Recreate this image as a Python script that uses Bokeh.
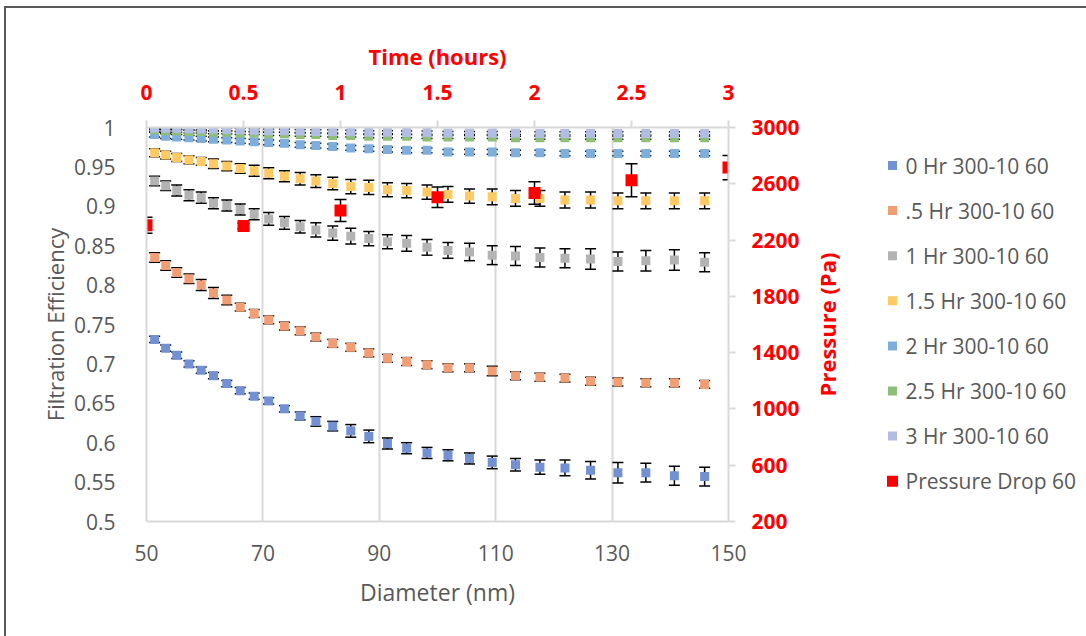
from math import pi
from bokeh.plotting import figure
from bokeh.layouts import row
from bokeh.core.properties import value
from bokeh.models import (Range1d, LinearAxis, FixedTicker, Whisker, TeeHead, Label,
                          ColumnDataSource, NumeralTickFormatter)
from bokeh.embed import file_html
from bokeh.resources import INLINE

# Particle diameter bins (nm)
diameter_nm = [51.4, 53.3, 55.2, 57.3, 59.4, 61.5, 63.8, 66.1, 68.5, 71.0, 73.7, 76.4, 79.1, 82.0, 85.1,
               88.2, 91.4, 94.7, 98.2, 101.8, 105.5, 109.4, 113.4, 117.6, 121.9, 126.3, 131.0, 135.8, 140.7, 145.9]

# Filtration efficiency per loading time, with error
eff_0hr = [0.731, 0.720, 0.711, 0.700, 0.692, 0.685, 0.675, 0.666, 0.659, 0.653, 0.643, 0.634, 0.627, 0.621, 0.615,
           0.608, 0.599, 0.593, 0.587, 0.584, 0.580, 0.575, 0.572, 0.569, 0.568, 0.565, 0.562, 0.562, 0.558, 0.557]
err_0hr = [0.004, 0.004, 0.004, 0.004, 0.004, 0.004, 0.004, 0.004, 0.004, 0.004, 0.004, 0.005, 0.006, 0.006, 0.008,
           0.008, 0.007, 0.007, 0.007, 0.007, 0.007, 0.008, 0.008, 0.009, 0.010, 0.011, 0.013, 0.012, 0.012, 0.012]

eff_05hr = [0.835, 0.825, 0.816, 0.808, 0.800, 0.790, 0.781, 0.772, 0.764, 0.756, 0.748, 0.742, 0.734, 0.726, 0.721,
            0.714, 0.707, 0.703, 0.699, 0.695, 0.695, 0.691, 0.685, 0.683, 0.682, 0.678, 0.677, 0.676, 0.676, 0.674]
err_05hr = [0.006, 0.006, 0.006, 0.006, 0.007, 0.007, 0.006, 0.005, 0.005, 0.005, 0.005, 0.005, 0.005, 0.005, 0.005,
            0.005, 0.005, 0.005, 0.005, 0.005, 0.005, 0.006, 0.005, 0.005, 0.005, 0.005, 0.005, 0.005, 0.005, 0.005]

eff_1hr = [0.932, 0.926, 0.920, 0.914, 0.911, 0.904, 0.901, 0.896, 0.890, 0.884, 0.879, 0.874, 0.870, 0.866, 0.862,
           0.859, 0.855, 0.853, 0.848, 0.844, 0.842, 0.838, 0.837, 0.835, 0.834, 0.833, 0.830, 0.831, 0.832, 0.829]
err_1hr = [0.006, 0.006, 0.007, 0.007, 0.007, 0.007, 0.007, 0.007, 0.007, 0.008, 0.008, 0.008, 0.009, 0.009, 0.010,
           0.009, 0.009, 0.010, 0.010, 0.010, 0.011, 0.012, 0.012, 0.012, 0.012, 0.013, 0.012, 0.013, 0.013, 0.012]

eff_15hr = [0.968, 0.965, 0.962, 0.959, 0.957, 0.954, 0.951, 0.948, 0.945, 0.942, 0.938, 0.935, 0.932, 0.929, 0.925,
            0.924, 0.921, 0.920, 0.918, 0.915, 0.913, 0.912, 0.910, 0.910, 0.908, 0.908, 0.907, 0.907, 0.907, 0.907]
err_15hr = [0.005, 0.005, 0.005, 0.005, 0.005, 0.006, 0.006, 0.006, 0.007, 0.007, 0.007, 0.008, 0.008, 0.008, 0.009,
            0.009, 0.009, 0.009, 0.009, 0.010, 0.009, 0.010, 0.010, 0.010, 0.010, 0.010, 0.010, 0.010, 0.010, 0.010]

eff_2hr = [0.991, 0.989, 0.988, 0.987, 0.986, 0.985, 0.984, 0.983, 0.982, 0.981, 0.980, 0.978, 0.977, 0.976, 0.974,
           0.973, 0.972, 0.971, 0.971, 0.969, 0.969, 0.969, 0.968, 0.968, 0.967, 0.967, 0.967, 0.967, 0.967, 0.967]
err_2hr = [0.003, 0.003, 0.003, 0.003, 0.003, 0.003, 0.003, 0.003, 0.003, 0.003, 0.003, 0.003, 0.003, 0.003, 0.003,
           0.003, 0.003, 0.003, 0.003, 0.003, 0.003, 0.003, 0.003, 0.003, 0.003, 0.003, 0.003, 0.003, 0.003, 0.003]

eff_25hr = [0.997, 0.996, 0.996, 0.995, 0.995, 0.994, 0.994, 0.993, 0.993, 0.992, 0.992, 0.991, 0.991, 0.990, 0.990,
            0.989, 0.989, 0.989, 0.988, 0.988, 0.988, 0.988, 0.987, 0.987, 0.987, 0.987, 0.987, 0.987, 0.987, 0.987]
err_25hr = [0.002, 0.002, 0.002, 0.002, 0.002, 0.002, 0.002, 0.002, 0.002, 0.002, 0.002, 0.002, 0.002, 0.002, 0.002,
            0.002, 0.002, 0.002, 0.002, 0.002, 0.002, 0.002, 0.002, 0.002, 0.002, 0.002, 0.002, 0.002, 0.002, 0.002]

eff_3hr = [0.9995, 0.999, 0.999, 0.9985, 0.998, 0.998, 0.9975, 0.997, 0.9965, 0.996, 0.996, 0.9955, 0.995, 0.995,
           0.9945, 0.994, 0.994, 0.9935, 0.9935, 0.993, 0.993, 0.993, 0.993, 0.9925, 0.9925, 0.9925, 0.9925, 0.9925,
           0.9925, 0.9925]
err_3hr = [0.002, 0.002, 0.002, 0.002, 0.002, 0.002, 0.002, 0.002, 0.002, 0.002, 0.002, 0.002, 0.002, 0.002, 0.002,
           0.002, 0.002, 0.002, 0.002, 0.002, 0.002, 0.002, 0.002, 0.002, 0.002, 0.002, 0.002, 0.002, 0.002, 0.002]

series_labels = ["0 Hr 300-10 60", ".5 Hr 300-10 60", "1 Hr 300-10 60", "1.5 Hr 300-10 60",
                 "2 Hr 300-10 60", "2.5 Hr 300-10 60", "3 Hr 300-10 60"]
series_colors = ["#7390D2", "#F29D74", "#B3B3B3", "#FFC964", "#7FAEDD", "#8FBE78", "#B1BDE2"]
series_values = [eff_0hr, eff_05hr, eff_1hr, eff_15hr, eff_2hr, eff_25hr, eff_3hr]
series_errors = [err_0hr, err_05hr, err_1hr, err_15hr, err_2hr, err_25hr, err_3hr]

# Pressure drop across the filter versus loading time
pressure_label = "Pressure Drop 60"
time_hr = [0, 0.5, 1, 1.5, 2, 2.5, 3]
pressure_pa = [2305, 2300, 2410, 2505, 2535, 2625, 2715]
pressure_err = [57, 20, 78, 73, 80, 118, 86]

diameter_ticks = [50, 70, 90, 110, 130, 150]
efficiency_ticks = [0.5, 0.55, 0.6, 0.65, 0.7, 0.75, 0.8, 0.85, 0.9, 0.95, 1.0]
time_ticks = [0, 0.5, 1, 1.5, 2, 2.5, 3]
pressure_ticks = [200, 600, 1000, 1400, 1800, 2200, 2600, 3000]

FONT = "Open Sans"
GRAY_TEXT = "#595959"
AXIS_GRAY = "#D9D9D9"
RED = "#FF0000"
FRAME = "#595959"

MAIN_W, SIDE_W, H = 805, 281, 636
TOP, BOTTOM = 127, 115

p = figure(width=MAIN_W, height=H, x_range=Range1d(50, 150), y_range=Range1d(0.5, 1.0),
           output_backend="svg", toolbar_location=None,
           min_border_left=146, min_border_right=77, min_border_top=TOP, min_border_bottom=BOTTOM)
p.extra_x_ranges = {"time": Range1d(0, 3)}
p.extra_y_ranges = {"pressure": Range1d(200, 3000)}

p.background_fill_color = "white"
p.border_fill_color = None
p.outline_line_color = None
# thin frame around the chart area (left and top edges)
p.styles = {"background": f"linear-gradient({FRAME},{FRAME}) 4px 6px / 2px calc(100% - 6px) no-repeat, "
                          f"linear-gradient({FRAME},{FRAME}) 4px 6px / 100% 2px no-repeat, #ffffff"}

p.ygrid.visible = False
p.xgrid.ticker = FixedTicker(ticks=diameter_ticks)
p.xgrid.grid_line_color = AXIS_GRAY
p.xgrid.grid_line_width = 2

# bottom axis: diameter
xa = p.xaxis[0]
xa.ticker = FixedTicker(ticks=diameter_ticks)
xa.axis_label = "Diameter (nm)"
xa.axis_line_color = AXIS_GRAY
xa.axis_line_width = 2
xa.major_tick_line_color = None
xa.minor_tick_line_color = None
xa.major_label_standoff = 17
xa.axis_label_standoff = 12
xa.major_label_text_font = FONT
xa.major_label_text_font_size = "21px"
xa.major_label_text_color = GRAY_TEXT
xa.axis_label_text_font = FONT
xa.axis_label_text_font_size = "23px"
xa.axis_label_text_font_style = "normal"
xa.axis_label_text_color = GRAY_TEXT

# left axis: efficiency
ya = p.yaxis[0]
ya.ticker = FixedTicker(ticks=efficiency_ticks)
ya.formatter = NumeralTickFormatter(format="0.[00]")
ya.axis_label = "Filtration Efficiency"
ya.axis_line_color = AXIS_GRAY
ya.axis_line_width = 2
ya.major_tick_line_color = None
ya.minor_tick_line_color = None
ya.major_label_standoff = 25
ya.axis_label_standoff = 1
ya.major_label_text_font = FONT
ya.major_label_text_font_size = "21px"
ya.major_label_text_color = GRAY_TEXT
ya.axis_label_text_font = FONT
ya.axis_label_text_font_size = "22px"
ya.axis_label_text_font_style = "normal"
ya.axis_label_text_color = GRAY_TEXT

# top axis: time
ta = LinearAxis(x_range_name="time", ticker=FixedTicker(ticks=time_ticks),
                formatter=NumeralTickFormatter(format="0.[0]"), axis_label="Time (hours)")
ta.axis_line_color = AXIS_GRAY
ta.axis_line_width = 2
ta.major_tick_line_color = AXIS_GRAY
ta.major_tick_line_width = 2
ta.major_tick_out = 7
ta.major_tick_in = 0
ta.minor_tick_line_color = None
ta.major_label_standoff = 21
ta.axis_label_standoff = 11
ta.major_label_text_font = FONT
ta.major_label_text_font_size = "21px"
ta.major_label_text_font_style = "bold"
ta.major_label_text_color = RED
ta.axis_label_text_font = FONT
ta.axis_label_text_font_size = "22px"
ta.axis_label_text_font_style = "bold"
ta.axis_label_text_color = RED
p.add_layout(ta, "above")

# right axis: pressure (its title is set beside it, reading upward)
ra = LinearAxis(y_range_name="pressure", ticker=FixedTicker(ticks=pressure_ticks))
ra.axis_line_color = AXIS_GRAY
ra.axis_line_width = 2
ra.major_tick_line_color = AXIS_GRAY
ra.major_tick_line_width = 2
ra.major_tick_out = 7
ra.major_tick_in = 0
ra.minor_tick_line_color = None
ra.major_label_standoff = 16
ra.major_label_text_font = FONT
ra.major_label_text_font_size = "21px"
ra.major_label_text_font_style = "bold"
ra.major_label_text_color = RED
p.add_layout(ra, "right")

# error bars and markers for each loading time
for color, vals, errs in zip(series_colors, series_values, series_errors):
    src = ColumnDataSource(dict(
        x=diameter_nm, y=vals,
        lower=[v - e for v, e in zip(vals, errs)],
        upper=[v + e for v, e in zip(vals, errs)],
    ))
    wh = Whisker(source=src, base="x", lower="lower", upper="upper",
                 line_color="black", line_width=1.5,
                 upper_head=TeeHead(size=11, line_color="black", line_width=1.5),
                 lower_head=TeeHead(size=11, line_color="black", line_width=1.5))
    p.add_layout(wh)
    p.scatter("x", "y", source=src, marker="square", size=9, fill_color=color, line_color=None)

# pressure drop on the secondary axes
psrc = ColumnDataSource(dict(
    x=time_hr, y=pressure_pa,
    lower=[v - e for v, e in zip(pressure_pa, pressure_err)],
    upper=[v + e for v, e in zip(pressure_pa, pressure_err)],
))
pwh = Whisker(source=psrc, base="x", lower="lower", upper="upper",
              x_range_name="time", y_range_name="pressure",
              line_color="black", line_width=1.5,
              upper_head=TeeHead(size=12, line_color="black", line_width=1.5),
              lower_head=TeeHead(size=12, line_color="black", line_width=1.5))
p.add_layout(pwh)
p.scatter("x", "y", source=psrc, marker="square", size=12, fill_color=RED, line_color=None,
          x_range_name="time", y_range_name="pressure")

# side panel in pixel coordinates: pressure axis title and the key
side = figure(width=SIDE_W, height=H, x_range=Range1d(MAIN_W, MAIN_W + SIDE_W),
              y_range=Range1d(H - BOTTOM, TOP),
              output_backend="svg", toolbar_location=None,
              min_border_left=0, min_border_right=0, min_border_top=TOP, min_border_bottom=BOTTOM,
              x_axis_location=None, y_axis_location=None)
side.grid.visible = False
side.outline_line_color = None
side.background_fill_color = None
side.border_fill_color = None
side.styles = {"background": f"linear-gradient({FRAME},{FRAME}) 0px 6px / 100% 2px no-repeat, #ffffff"}

side.add_layout(Label(x=826, y=324, text="Pressure (Pa)", angle=pi / 2, text_align="center",
                      text_baseline="middle", text_font=FONT, text_font_size="22px",
                      text_font_style="bold", text_color=RED))

key_labels = series_labels + [pressure_label]
key_colors = series_colors + [RED]
key_sizes = [9] * len(series_labels) + [11]
KEY_TOP, KEY_STEP, KEY_X = 165, 45.1, 892
key_src = ColumnDataSource(dict(
    x=[KEY_X] * len(key_labels),
    tx=[KEY_X + 13] * len(key_labels),
    y=[KEY_TOP + KEY_STEP * i for i in range(len(key_labels))],
    label=key_labels, color=key_colors, size=key_sizes,
))
side.scatter("x", "y", source=key_src, marker="square", size="size", fill_color="color", line_color=None)
side.text("tx", "y", text="label", source=key_src, text_font=value(FONT), text_font_size="21px",
          text_color=GRAY_TEXT, text_baseline="middle", text_align="left")

layout = row(p, side, spacing=0)
open("out.html", "w").write(file_html(layout, INLINE))
